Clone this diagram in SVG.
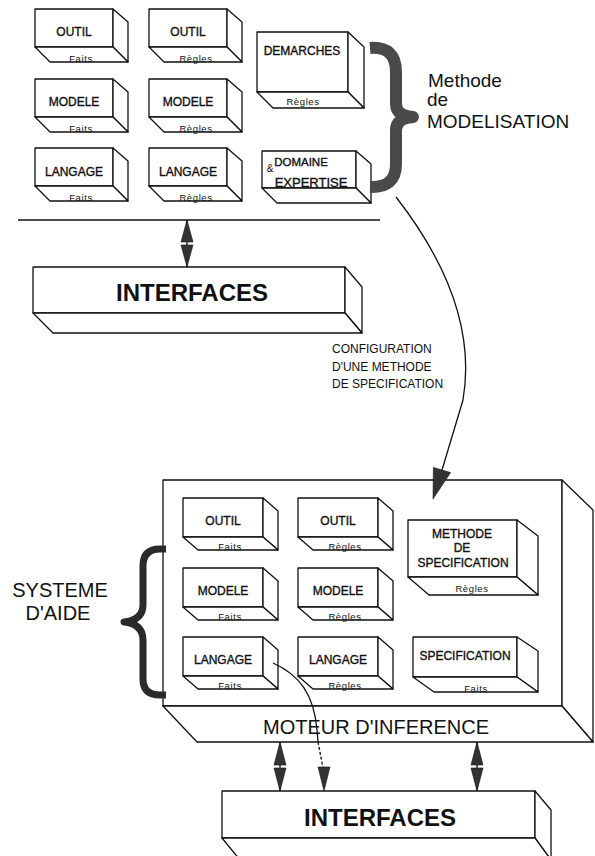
<svg xmlns="http://www.w3.org/2000/svg" width="595" height="856" viewBox="0 0 595 856">
<style>
.b{fill:#fff;stroke:#111;stroke-width:1.3;stroke-linejoin:round}
.t{font-family:"Liberation Sans",Arial,sans-serif;fill:#111;text-anchor:middle}
.lbl{font-size:12px;stroke:#111;stroke-width:0.35}
.sub{font-size:9.5px;letter-spacing:0.6px}
.big{font-size:20px}
.ifc{font-size:24px;font-weight:bold}
.cap{font-size:12px;text-anchor:start}
.st{font-size:19px;text-anchor:start}
.ln{fill:none;stroke:#111;stroke-width:1.3}
.ah{fill:#333;stroke:#111;stroke-width:0.6}
</style>
<rect width="595" height="856" fill="#fff"/>

<!-- Top boxes -->
<g id="outil-faits-top">
<rect class="b" x="35" y="9" width="78" height="38"/>
<polygon class="b" points="113,9 128,22 128,62 113,47"/>
<polygon class="b" points="35,47 50,62 128,62 113,47"/>
<text class="t lbl" x="74" y="36">OUTIL</text>
<text class="t sub" x="81" y="62">Faits</text>
</g>
<g id="outil-regles-top">
<rect class="b" x="149" y="9" width="78" height="38"/>
<polygon class="b" points="227,9 242,22 242,62 227,47"/>
<polygon class="b" points="149,47 164,62 242,62 227,47"/>
<text class="t lbl" x="188" y="36">OUTIL</text>
<text class="t sub" x="196" y="62">Règles</text>
</g>
<g id="modele-faits-top">
<rect class="b" x="35" y="79" width="78" height="38"/>
<polygon class="b" points="113,79 128,92 128,132 113,117"/>
<polygon class="b" points="35,117 50,132 128,132 113,117"/>
<text class="t lbl" x="74" y="106">MODELE</text>
<text class="t sub" x="81" y="132">Faits</text>
</g>
<g id="modele-regles-top">
<rect class="b" x="149" y="79" width="78" height="38"/>
<polygon class="b" points="227,79 242,92 242,132 227,117"/>
<polygon class="b" points="149,117 164,132 242,132 227,117"/>
<text class="t lbl" x="188" y="106">MODELE</text>
<text class="t sub" x="196" y="132">Règles</text>
</g>
<g id="langage-faits-top">
<rect class="b" x="35" y="148" width="78" height="38"/>
<polygon class="b" points="113,148 128,161 128,201 113,186"/>
<polygon class="b" points="35,186 50,201 128,201 113,186"/>
<text class="t lbl" x="74" y="176">LANGAGE</text>
<text class="t sub" x="81" y="201">Faits</text>
</g>
<g id="langage-regles-top">
<rect class="b" x="149" y="148" width="78" height="38"/>
<polygon class="b" points="227,148 242,161 242,201 227,186"/>
<polygon class="b" points="149,186 164,201 242,201 227,186"/>
<text class="t lbl" x="188" y="176">LANGAGE</text>
<text class="t sub" x="196" y="201">Règles</text>
</g>
<g id="demarches">
<rect class="b" x="257" y="32" width="91" height="60"/>
<polygon class="b" points="348,32 364,47 364,108 348,92"/>
<polygon class="b" points="257,92 273,108 364,108 348,92"/>
<text class="t lbl" x="302" y="55">DEMARCHES</text>
<text class="t sub" x="303" y="105">Règles</text>
</g>
<g id="domaine-expertise">
<rect class="b" x="262" y="151" width="94" height="37"/>
<polygon class="b" points="356,151 371,164 371,203 356,188"/>
<polygon class="b" points="262,188 277,203 371,203 356,188"/>
<text class="t lbl" x="301" y="166" style="font-size:11.5px">DOMAINE</text>
<text class="t" x="270" y="172" style="font-size:10px">&amp;</text>
<text class="t lbl" x="311" y="187" style="font-size:13px">EXPERTISE</text>
</g>

<!-- Top brace -->
<path d="M370,48 Q396,46 396,72 L396,104 Q396,116 413,117 Q396,118 396,130 L396,164 Q396,188 370,187" fill="none" stroke="#4a4a4a" stroke-width="12" stroke-linejoin="round"/>
<g id="methode-label">
<text class="t st" x="428" y="87">Methode</text>
<text class="t st" x="427" y="106">de</text>
<text class="t st" x="427" y="128">MODELISATION</text>
</g>

<!-- Top interfaces -->
<g id="interfaces-top">
<rect class="b" x="33" y="267" width="312" height="46"/>
<polygon class="b" points="345,267 362,287 362,333 345,313"/>
<polygon class="b" points="33,313 53,333 362,333 345,313"/>
<text class="t ifc" x="192" y="301">INTERFACES</text>
</g>

<text class="t cap" x="332" y="353">CONFIGURATION</text>
<text class="t cap" x="332" y="371">D'UNE METHODE</text>
<text class="t cap" x="332" y="388">DE SPECIFICATION</text>

<!-- Big box: moteur d'inference -->
<g id="moteur">
<rect class="b" x="163" y="480" width="399" height="226"/>
<polygon class="b" points="562,480 593,510 593,742 562,706"/>
<polygon class="b" points="163,706 197,742 593,742 562,706"/>
<text class="t big" x="376" y="734">MOTEUR D'INFERENCE</text>
</g>

<g id="outil-faits">
<rect class="b" x="183" y="498" width="80" height="39"/>
<polygon class="b" points="263,498 278,511 278,550 263,537"/>
<polygon class="b" points="183,537 198,550 278,550 263,537"/>
<text class="t lbl" x="223" y="525">OUTIL</text>
<text class="t sub" x="230" y="550">Faits</text>
</g>
<g id="outil-regles">
<rect class="b" x="298" y="498" width="80" height="39"/>
<polygon class="b" points="378,498 393,511 393,550 378,537"/>
<polygon class="b" points="298,537 313,550 393,550 378,537"/>
<text class="t lbl" x="338" y="525">OUTIL</text>
<text class="t sub" x="345" y="550">Règles</text>
</g>
<g id="modele-faits">
<rect class="b" x="183" y="568" width="80" height="39"/>
<polygon class="b" points="263,568 278,581 278,620 263,607"/>
<polygon class="b" points="183,607 198,620 278,620 263,607"/>
<text class="t lbl" x="223" y="595">MODELE</text>
<text class="t sub" x="230" y="620">Faits</text>
</g>
<g id="modele-regles">
<rect class="b" x="298" y="568" width="80" height="39"/>
<polygon class="b" points="378,568 393,581 393,620 378,607"/>
<polygon class="b" points="298,607 313,620 393,620 378,607"/>
<text class="t lbl" x="338" y="595">MODELE</text>
<text class="t sub" x="345" y="620">Règles</text>
</g>
<g id="langage-faits">
<rect class="b" x="183" y="637" width="80" height="39"/>
<polygon class="b" points="263,637 278,650 278,689 263,676"/>
<polygon class="b" points="183,676 198,689 278,689 263,676"/>
<text class="t lbl" x="223" y="664">LANGAGE</text>
<text class="t sub" x="230" y="689">Faits</text>
</g>
<g id="langage-regles">
<rect class="b" x="298" y="637" width="80" height="39"/>
<polygon class="b" points="378,637 393,650 393,689 378,676"/>
<polygon class="b" points="298,676 313,689 393,689 378,676"/>
<text class="t lbl" x="338" y="664">LANGAGE</text>
<text class="t sub" x="345" y="689">Règles</text>
</g>
<g id="methode-specification">
<rect class="b" x="408" y="520" width="109" height="57"/>
<polygon class="b" points="517,520 538,536 538,595 517,577"/>
<polygon class="b" points="408,577 429,595 538,595 517,577"/>
<text class="t lbl" x="462" y="538">METHODE</text>
<text class="t lbl" x="462" y="552">DE</text>
<text class="t lbl" x="463" y="567">SPECIFICATION</text>
<text class="t sub" x="472" y="592">Règles</text>
</g>
<g id="specification">
<rect class="b" x="413" y="637" width="104" height="40"/>
<polygon class="b" points="517,637 538,651 538,692 517,677"/>
<polygon class="b" points="413,677 434,692 538,692 517,677"/>
<text class="t lbl" x="465" y="660">SPECIFICATION</text>
<text class="t sub" x="476" y="692">Faits</text>
</g>

<!-- Left brace -->
<path d="M166,549 L160,549 Q143,549 143,566 L143,605 Q143,620 124,622 Q143,624 143,640 L143,679 Q143,695 160,695 L166,695" fill="none" stroke="#2a2a2a" stroke-width="7" stroke-linejoin="round"/>
<g id="systeme-aide-label">
<text class="t big" x="60" y="597">SYSTEME</text>
<text class="t big" x="58" y="620">D'AIDE</text>
</g>

<!-- Bottom interfaces -->
<g id="interfaces-bottom">
<rect class="b" x="222" y="791" width="313" height="47"/>
<polygon class="b" points="535,791 551,810 551,860 535,838"/>
<polygon class="b" points="222,838 240,860 551,860 535,838"/>
<text class="t ifc" x="380" y="826">INTERFACES</text>
</g>

<!-- Connectors -->
<g id="connectors">
<line class="ln" x1="18" y1="220" x2="380" y2="220"/>
<line class="ln" x1="187" y1="220" x2="187" y2="267"/>
<polygon class="ah" points="187,220 181,242 193,242"/>
<polygon class="ah" points="187,267 181,245 193,245"/>

<path class="ln" d="M396,197 C445,260 475,330 463,400 L442,470"/>
<polygon class="ah" points="433,499 450.6,472.6 433.4,467.4"/>

<line class="ln" x1="280" y1="742" x2="280" y2="791"/>
<polygon class="ah" points="280,742 274,765 286,765"/>
<polygon class="ah" points="280,791 274,768 286,768"/>
<line class="ln" x1="477" y1="742" x2="477" y2="791"/>
<polygon class="ah" points="477,742 471,765 483,765"/>
<polygon class="ah" points="477,791 471,768 483,768"/>

<path class="ln" d="M273,663 C300,675 314,695 317,730 L318,742" stroke-width="1"/>
<path class="ln" d="M318,742 L323,768" stroke-width="1" stroke-dasharray="3,2"/>
<polygon class="ah" points="324,791 318,767 330,767"/>
</g>
</svg>
